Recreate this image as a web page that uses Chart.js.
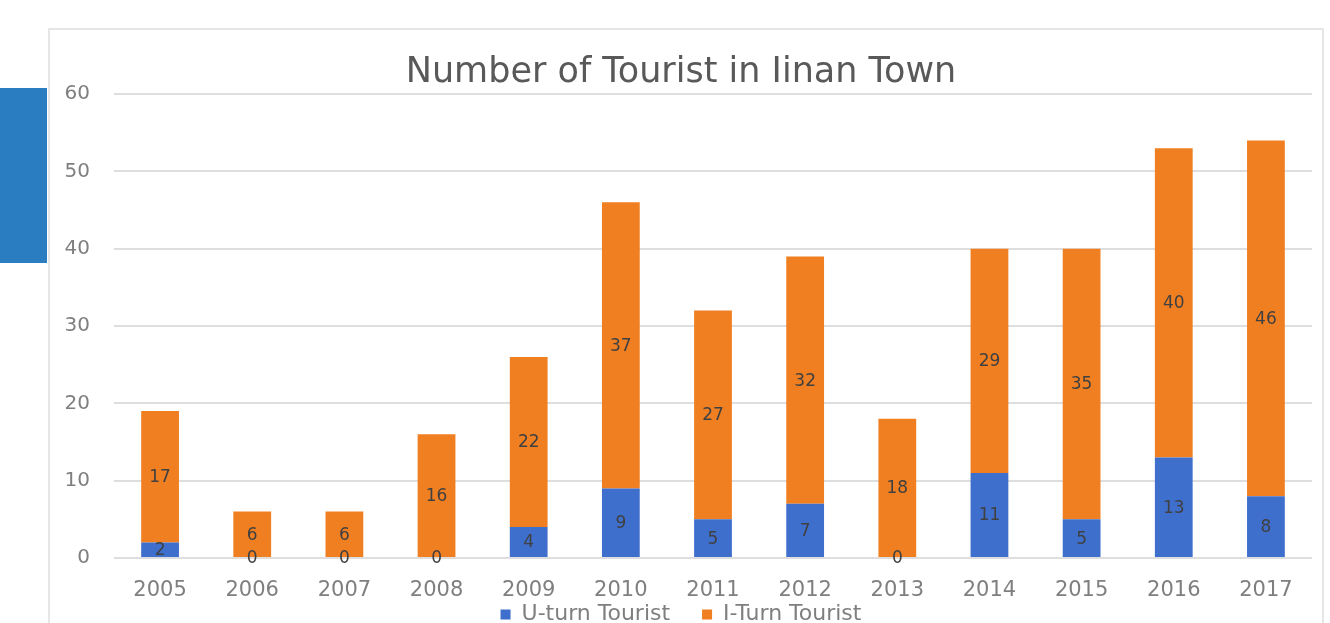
<!DOCTYPE html>
<html>
<head>
<meta charset="utf-8">
<script src="https://cdn.jsdelivr.net/npm/chart.js@4.4.0/dist/chart.umd.min.js"></script>
<style>
  body { margin: 0; background: #fff; }
  #wrap { position: relative; width: 1330px; height: 623px; overflow: hidden; }
  #frame { position: absolute; left: 48px; top: 28px; width: 1272px; height: 620px; border: 2px solid #e6e6e6; }
  #tab { position: absolute; left: 0; top: 88px; width: 47px; height: 175px; background: #2a7dc1; }
  #chart { position: absolute; left: 0; top: 0; }
</style>
</head>
<body>
<div id="wrap">
  <div id="frame"></div>
  <div id="tab"></div>
  <canvas id="chart" width="1330" height="623"></canvas>
</div>
<script>
// Chart data
const years = ['2005', '2006', '2007', '2008', '2009', '2010', '2011', '2012', '2013', '2014', '2015', '2016', '2017'];
const uTurn = [2, 0, 0, 0, 4, 9, 5, 7, 0, 11, 5, 13, 8];
const iTurn = [17, 6, 6, 16, 22, 37, 27, 32, 18, 29, 35, 40, 46];
const yTicks = [0, 10, 20, 30, 40, 50, 60];

const FONT = "'DejaVu Sans', sans-serif";
const TICK_COLOR = '#7f7f7f';

// Draw value labels in the middle of each segment
const valueLabels = {
  id: 'valueLabels',
  afterDatasetsDraw(chart) {
    const ctx = chart.ctx;
    ctx.save();
    ctx.font = '17px ' + FONT;
    ctx.fillStyle = '#404040';
    ctx.textAlign = 'center';
    ctx.textBaseline = 'middle';
    chart.data.datasets.forEach((ds, i) => {
      const meta = chart.getDatasetMeta(i);
      meta.data.forEach((bar, j) => {
        const y = (bar.y + bar.base) / 2;
        ctx.fillText(String(ds.data[j]), bar.x, y + 1);
      });
    });
    ctx.restore();
  }
};

new Chart(document.getElementById('chart').getContext('2d'), {
  type: 'bar',
  data: {
    labels: years,
    datasets: [{
      label: 'U-turn Tourist',
      data: uTurn,
      backgroundColor: '#3f6fcd',
      barPercentage: 0.82,
      categoryPercentage: 0.5
    }, {
      label: 'I-Turn Tourist',
      data: iTurn,
      backgroundColor: '#f07f22',
      barPercentage: 0.82,
      categoryPercentage: 0.5
    }]
  },
  options: {
    responsive: false,
    animation: false,
    layout: { padding: { left: 50, right: 18, top: 30, bottom: 0 } },
    plugins: {
      title: {
        display: true,
        text: 'Number of Tourist in Iinan Town',
        color: '#595959',
        font: { family: FONT, size: 35, weight: 'normal' },
        padding: { top: 22, bottom: 0 }
      },
      legend: {
        position: 'bottom',
        maxHeight: 23.5,
        labels: {
          color: TICK_COLOR,
          font: { family: FONT, size: 22 },
          boxWidth: 10,
          boxHeight: 10,
          padding: 4,
          // extra spaces after the first entry to open the gap between items
          generateLabels(chart) {
            const items = Chart.defaults.plugins.legend.labels.generateLabels(chart);
            items[0].text += '    ';
            return items;
          }
        }
      },
      tooltip: { enabled: false }
    },
    scales: {
      x: {
        stacked: true,
        afterFit(s) { s.height = 41.5; },
        grid: { display: false },
        border: { display: false },
        ticks: { color: TICK_COLOR, font: { family: FONT, size: 21 }, padding: 12 }
      },
      y: {
        stacked: true,
        min: 0,
        max: 60,
        afterFit(s) { s.width = 64; },
        afterBuildTicks(s) { s.ticks = yTicks.map(v => ({ value: v })); },
        grid: { color: '#dedede', lineWidth: 2, drawTicks: false },
        border: { display: false },
        ticks: { color: TICK_COLOR, font: { family: FONT, size: 20 }, padding: 24 }
      }
    }
  },
  plugins: [valueLabels]
});
</script>
</body>
</html>
